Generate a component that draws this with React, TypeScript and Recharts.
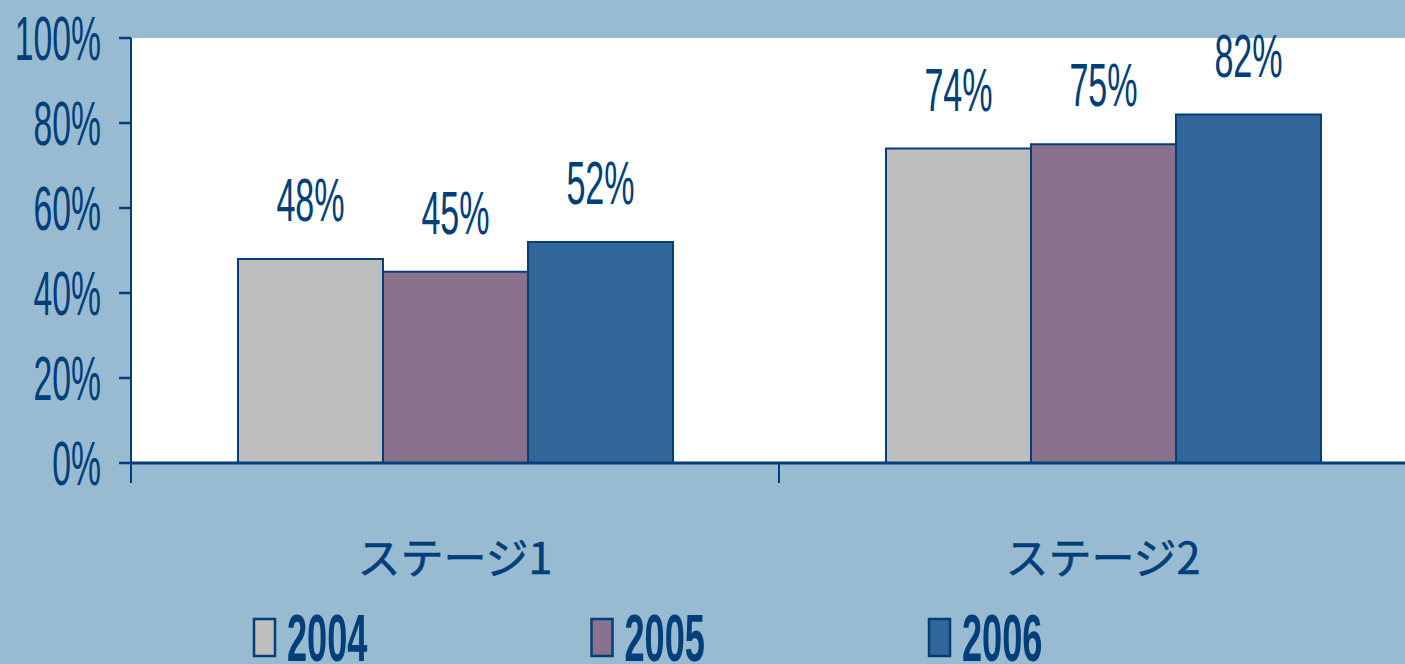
import React from "react";
import { BarChart, Bar, XAxis, YAxis, LabelList } from "recharts";

const categories = ["ステージ1", "ステージ2"];
const seriesNames = ["2004", "2005", "2006"];
const values2004 = [48, 74];
const values2005 = [45, 75];
const values2006 = [52, 82];
const yTicks = [0, 20, 40, 60, 80, 100];

const seriesValues = [values2004, values2005, values2006];
const seriesColors = ["#BEBEBE", "#8B728C", "#33679A"];

const data = categories.map((c, i) => {
  const row: any = { name: c };
  seriesNames.forEach((s, j) => {
    row[s] = seriesValues[j][i];
  });
  return row;
});

const NAVY = "#003F7A";
const BG = "#99BBD2";
const REG = "'Liberation Sans', Arial, sans-serif";

const YTick = (props: any) => {
  const { x, y, payload } = props;
  return (
    <text
      transform={`translate(${x},${y + 22}) scale(0.535,1)`}
      textAnchor="end"
      fontSize={63}
      fontFamily={REG}
      fill={NAVY}
    >
      {`${payload.value}%`}
    </text>
  );
};

const XTick = (props: any) => {
  const { x, y, payload, width, index } = props;
  const half = width / (2 * categories.length);
  return (
    <g>
      {index === 0 && (
        <line x1={x - half} x2={x - half} y1={y} y2={y + 20} stroke={NAVY} strokeWidth={2} />
      )}
      <line x1={x + half} x2={x + half} y1={y} y2={y + 20} stroke={NAVY} strokeWidth={2} />
      <text
        x={x}
        y={y + 111}
        textAnchor="middle"
        fontSize={43}
        fontFamily="'Noto Sans CJK JP', sans-serif"
        fill={NAVY}
        stroke={NAVY}
        strokeWidth={0.6}
      >
        {payload.value}
      </text>
    </g>
  );
};

const DataLabel = (props: any) => {
  const { x, y, width, value } = props;
  return (
    <text
      transform={`translate(${x + width / 2},${y - 38}) scale(0.55,1)`}
      textAnchor="middle"
      fontSize={62}
      fontFamily={REG}
      fill={NAVY}
    >
      {`${value}%`}
    </text>
  );
};

export default function App() {
  return (
    <div
      style={{
        position: "fixed",
        left: 0,
        top: 0,
        width: 1405,
        height: 664,
        overflow: "hidden",
        background: BG,
      }}
    >
      <div style={{ position: "absolute", left: 0, top: 0 }}>
        <BarChart
          width={1427}
          height={664}
          data={data}
          margin={{ top: 38, right: 0, bottom: 0, left: 0 }}
          barCategoryGap={107}
          barGap={0}
        >
          <rect x={131} y={38} width={1296} height={425} fill="#FFFFFF" />
          <XAxis
            dataKey="name"
            height={201}
            tickSize={0}
            tickMargin={0}
            tickLine={false}
            axisLine={{ stroke: NAVY, strokeWidth: 3 }}
            tick={<XTick />}
            interval={0}
          />
          <YAxis
            width={131}
            domain={[0, 100]}
            ticks={yTicks}
            tickSize={12}
            tickMargin={18}
            tickLine={{ stroke: NAVY, strokeWidth: 2.5 }}
            axisLine={{ stroke: NAVY, strokeWidth: 2 }}
            tick={<YTick />}
            interval={0}
          />
          {seriesNames.map((s, j) => (
            <Bar
              key={s}
              dataKey={s}
              fill={seriesColors[j]}
              stroke={NAVY}
              strokeWidth={2}
              isAnimationActive={false}
            >
              <LabelList dataKey={s} content={<DataLabel />} />
            </Bar>
          ))}
        </BarChart>
      </div>
      <svg
        width={1405}
        height={664}
        style={{ position: "absolute", left: 0, top: 0, pointerEvents: "none" }}
      >
        {seriesNames.map((s, j) => (
          <g key={s}>
            <rect
              x={254 + j * 337.5}
              y={619}
              width={21}
              height={37}
              fill={seriesColors[j]}
              stroke={NAVY}
              strokeWidth={2.5}
            />
            <text
              transform={`translate(${287 + j * 337.5},661) scale(0.54,1)`}
              fontSize={67}
              fontWeight="bold"
              fontFamily={REG}
              fill={NAVY}
            >
              {s}
            </text>
          </g>
        ))}
      </svg>
    </div>
  );
}
